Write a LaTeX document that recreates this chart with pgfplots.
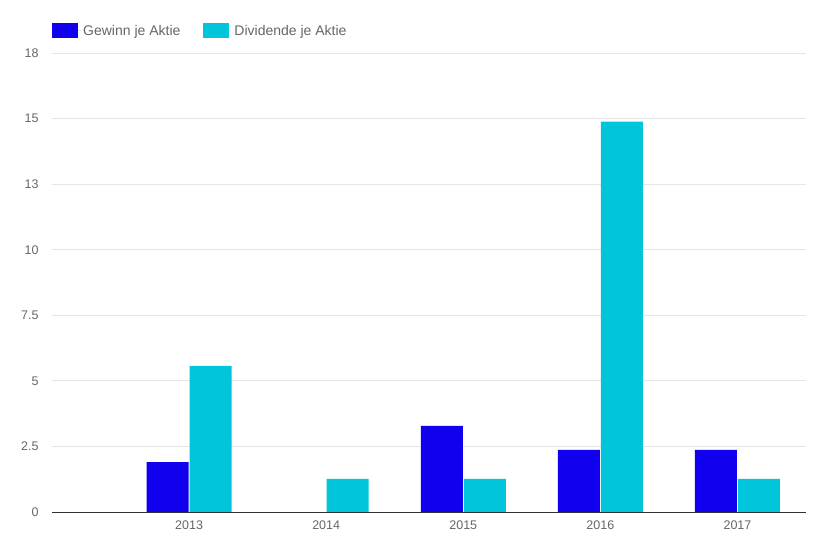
\documentclass[border=0pt]{standalone}
\usepackage{fontspec}
\setmainfont{Liberation Sans}
\usepackage{pgfplots}
\pgfplotsset{compat=1.18}
\definecolor{gewinn}{HTML}{1000EE}
\definecolor{divid}{HTML}{00C5DB}
\definecolor{txt}{HTML}{666666}
\definecolor{grid}{HTML}{E6E6E6}
\definecolor{axisl}{HTML}{333333}
\begin{document}
\begin{tikzpicture}[x=1pt,y=1pt]
\path[use as bounding box] (0,0) rectangle (826,556);
\begin{axis}[
  at={(52pt,44pt)}, anchor=south west,
  scale only axis, width=754pt, height=459pt,
  ybar=1pt, bar width=42pt,
  xmin=0, xmax=5.5, ymin=0, ymax=17.5,
  xtick={1,2,3,4,5}, xticklabels={2013,2014,2015,2016,2017},
  ytick={0,2.5,5,7.5,10,12.5,15,17.5},
  yticklabels={0,2.5,5,7.5,10,13,15,18},
  /pgf/number format/assume math mode=true,
  tick style={draw=none},
  ymajorgrids, grid style={draw=grid, line width=0.8pt},
  axis x line*=bottom, axis y line*=left,
  y axis line style={draw=none},
  x axis line style={draw=axisl, line width=0.8pt, -},
  ticklabel style={font=\fontsize{12.5}{14}\selectfont, text=txt},
  yticklabel style={xshift=-10pt},
  xticklabel style={yshift=-1pt},
  legend columns=2,
  legend style={at={(0,1)}, anchor=south west, yshift=12pt, xshift=-3pt, draw=none, fill=none,
    font=\fontsize{14}{16}\selectfont, text=txt,
    /tikz/every even column/.append style={column sep=21pt}},
  legend image code/.code={\fill[#1] (0pt,-7.5pt) rectangle (26pt,7.5pt); \path (0pt,0pt) -- (29pt,0pt);},
]
\addplot[fill=gewinn, draw=none] coordinates {(1,1.9) (3,3.28) (4,2.37) (5,2.37)};
\addplot[fill=divid, draw=none] coordinates {(1,5.57) (2,1.26) (3,1.26) (4,14.88) (5,1.26)};
\legend{Gewinn je Aktie, Dividende je Aktie}
\end{axis}
\end{tikzpicture}
\end{document}
